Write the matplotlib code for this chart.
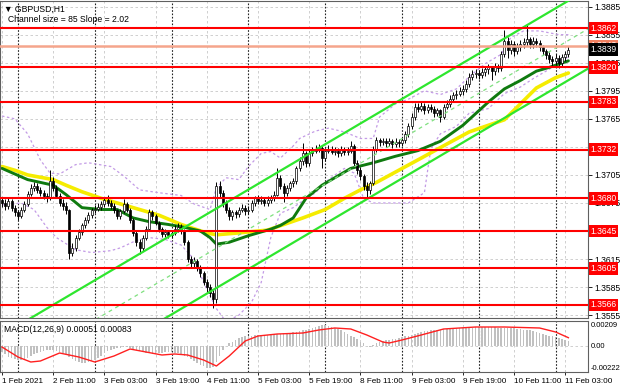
import matplotlib
matplotlib.use('Agg')
import matplotlib.pyplot as plt
import numpy as np

plt.rcParams['font.family'] = ['Liberation Sans', 'DejaVu Sans']

# ---------------- data ----------------
opens = [1.3678,1.3675,1.3672,1.3677,1.3670,1.3665,1.3661,1.3668,1.3674,1.3685,
         1.3691,1.3693,1.3689,1.3686,1.3683,1.3680,1.3698,1.3691,1.3683,1.3675,
         1.3672,1.3667,1.3622,1.3627,1.3638,1.3644,1.3651,1.3657,1.3662,1.3667,
         1.3669,1.3671,1.3674,1.3678,1.3675,1.3672,1.3667,1.3661,1.3666,1.3674,
         1.3668,1.3657,1.3643,1.3633,1.3627,1.3638,1.3647,1.3665,1.3661,1.3654,
         1.3647,1.3642,1.3644,1.3641,1.3643,1.3647,1.3649,1.3645,1.3633,1.3615,
         1.3611,1.3613,1.3606,1.3600,1.3591,1.3585,1.3579,1.3572,1.3693,1.3686,
         1.3675,1.3668,1.3661,1.3665,1.3663,1.3668,1.3670,1.3666,1.3668,1.3675,
         1.3680,1.3677,1.3678,1.3675,1.3678,1.3680,1.3684,1.3702,1.3693,1.3686,
         1.3691,1.3696,1.3698,1.3712,1.3720,1.3728,1.3718,1.3728,1.3731,1.3733,
         1.3734,1.3723,1.3731,1.3733,1.3730,1.3731,1.3728,1.3733,1.3729,1.3731,
         1.3736,1.3718,1.3710,1.3704,1.3693,1.3689,1.3696,1.3733,1.3742,1.3740,
         1.3741,1.3739,1.3741,1.3738,1.3740,1.3739,1.3742,1.3749,1.3757,1.3767,
         1.3778,1.3776,1.3779,1.3774,1.3778,1.3776,1.3771,1.3774,1.3767,1.3778,
         1.3781,1.3786,1.3790,1.3792,1.3795,1.3797,1.3802,1.3810,1.3813,1.3814,
         1.3812,1.3815,1.3818,1.3820,1.3816,1.3821,1.3819,1.3834,1.3848,1.3839,
         1.3845,1.3837,1.3842,1.3845,1.3847,1.3850,1.3845,1.3848,1.3846,1.3842,
         1.3837,1.3833,1.3829,1.3827,1.3830,1.3825,1.3831,1.3834]
closes = [1.3675,1.3672,1.3677,1.3670,1.3665,1.3661,1.3668,1.3674,1.3685,1.3691,
          1.3693,1.3689,1.3686,1.3683,1.3680,1.3698,1.3691,1.3683,1.3675,1.3672,
          1.3667,1.3622,1.3627,1.3638,1.3644,1.3651,1.3657,1.3662,1.3667,1.3669,
          1.3671,1.3674,1.3678,1.3675,1.3672,1.3667,1.3661,1.3666,1.3674,1.3668,
          1.3657,1.3643,1.3633,1.3627,1.3638,1.3647,1.3665,1.3661,1.3654,1.3647,
          1.3642,1.3644,1.3641,1.3643,1.3647,1.3649,1.3645,1.3633,1.3615,1.3611,
          1.3613,1.3606,1.3600,1.3591,1.3585,1.3579,1.3572,1.3693,1.3686,1.3675,
          1.3668,1.3661,1.3665,1.3663,1.3668,1.3670,1.3666,1.3668,1.3675,1.3680,
          1.3677,1.3678,1.3675,1.3678,1.3680,1.3684,1.3702,1.3693,1.3686,1.3691,
          1.3696,1.3698,1.3712,1.3720,1.3728,1.3718,1.3728,1.3731,1.3733,1.3734,
          1.3723,1.3731,1.3733,1.3730,1.3731,1.3728,1.3733,1.3729,1.3731,1.3736,
          1.3718,1.3710,1.3704,1.3693,1.3689,1.3696,1.3733,1.3742,1.3740,1.3741,
          1.3739,1.3741,1.3738,1.3740,1.3739,1.3742,1.3749,1.3757,1.3767,1.3778,
          1.3776,1.3779,1.3774,1.3778,1.3776,1.3771,1.3774,1.3767,1.3778,1.3781,
          1.3786,1.3790,1.3792,1.3795,1.3797,1.3802,1.3810,1.3813,1.3814,1.3812,
          1.3815,1.3818,1.3820,1.3816,1.3821,1.3819,1.3834,1.3848,1.3839,1.3845,
          1.3837,1.3842,1.3845,1.3847,1.3850,1.3845,1.3848,1.3846,1.3842,1.3837,
          1.3833,1.3829,1.3827,1.3830,1.3825,1.3831,1.3834,1.3839]
highs = [1.3681,1.3679,1.3680,1.3679,1.3673,1.3667,1.3671,1.3677,1.3688,1.3695,
         1.3697,1.3696,1.3692,1.3689,1.3686,1.3710,1.3703,1.3694,1.3686,1.3679,
         1.3676,1.3669,1.3632,1.3641,1.3647,1.3654,1.3660,1.3665,1.3670,1.3673,
         1.3675,1.3677,1.3681,1.3684,1.3678,1.3675,1.3669,1.3669,1.3679,1.3676,
         1.3670,1.3659,1.3646,1.3636,1.3641,1.3650,1.3669,1.3668,1.3663,1.3656,
         1.3649,1.3647,1.3646,1.3646,1.3651,1.3654,1.3652,1.3647,1.3635,1.3618,
         1.3617,1.3615,1.3609,1.3602,1.3594,1.3588,1.3582,1.3697,1.3699,1.3689,
         1.3678,1.3671,1.3668,1.3668,1.3671,1.3674,1.3673,1.3672,1.3678,1.3683,
         1.3684,1.3682,1.3681,1.3682,1.3684,1.3688,1.3712,1.3705,1.3696,1.3694,
         1.3699,1.3702,1.3715,1.3724,1.3739,1.3731,1.3732,1.3735,1.3737,1.3738,
         1.3736,1.3734,1.3737,1.3736,1.3735,1.3734,1.3736,1.3735,1.3735,1.3741,
         1.3738,1.3721,1.3713,1.3706,1.3697,1.3699,1.3736,1.3746,1.3745,1.3745,
         1.3744,1.3745,1.3743,1.3744,1.3743,1.3746,1.3752,1.3760,1.3771,1.3782,
         1.3782,1.3783,1.3782,1.3781,1.3781,1.3779,1.3777,1.3776,1.3781,1.3785,
         1.3790,1.3794,1.3796,1.3799,1.3801,1.3806,1.3814,1.3817,1.3818,1.3817,
         1.3819,1.3822,1.3824,1.3822,1.3825,1.3824,1.3838,1.3860,1.3852,1.3849,
         1.3848,1.3846,1.3849,1.3851,1.3865,1.3853,1.3852,1.3851,1.3849,1.3844,
         1.3840,1.3836,1.3832,1.3834,1.3833,1.3834,1.3837,1.3843]
lows = [1.3671,1.3668,1.3669,1.3666,1.3661,1.3657,1.3659,1.3665,1.3672,1.3683,
        1.3688,1.3686,1.3683,1.3679,1.3676,1.3678,1.3688,1.3680,1.3672,1.3668,
        1.3663,1.3615,1.3618,1.3624,1.3635,1.3641,1.3648,1.3654,1.3659,1.3664,
        1.3666,1.3668,1.3671,1.3672,1.3669,1.3664,1.3658,1.3658,1.3664,1.3665,
        1.3654,1.3640,1.3629,1.3620,1.3624,1.3635,1.3645,1.3657,1.3651,1.3644,
        1.3639,1.3639,1.3638,1.3638,1.3641,1.3644,1.3642,1.3630,1.3612,1.3607,
        1.3607,1.3602,1.3596,1.3587,1.3580,1.3574,1.3563,1.3568,1.3681,1.3671,
        1.3664,1.3657,1.3657,1.3659,1.3660,1.3665,1.3662,1.3663,1.3665,1.3672,
        1.3674,1.3674,1.3672,1.3672,1.3675,1.3677,1.3682,1.3690,1.3676,1.3683,
        1.3688,1.3692,1.3695,1.3709,1.3716,1.3714,1.3715,1.3725,1.3728,1.3729,
        1.3712,1.3720,1.3728,1.3727,1.3726,1.3724,1.3725,1.3726,1.3726,1.3728,
        1.3714,1.3706,1.3700,1.3689,1.3680,1.3685,1.3694,1.3730,1.3736,1.3737,
        1.3735,1.3736,1.3734,1.3735,1.3735,1.3736,1.3739,1.3746,1.3754,1.3764,
        1.3772,1.3773,1.3770,1.3771,1.3772,1.3767,1.3768,1.3762,1.3765,1.3775,
        1.3778,1.3783,1.3786,1.3789,1.3791,1.3794,1.3799,1.3807,1.3809,1.3808,
        1.3809,1.3811,1.3813,1.3806,1.3812,1.3815,1.3816,1.3831,1.3830,1.3834,
        1.3832,1.3834,1.3838,1.3841,1.3843,1.3841,1.3841,1.3842,1.3838,1.3833,
        1.3829,1.3825,1.3822,1.3823,1.3819,1.3820,1.3827,1.3831]

# moving averages (bar index, price)
ma_green_x = [0, 8, 16, 20, 25, 31, 36, 41, 46, 52, 57, 62, 65, 67, 71, 77, 84, 87, 91, 95,
              100, 104, 109, 116, 123, 130, 137, 144, 152, 157, 162, 167, 171, 177]
ma_green_y = [1.3712, 1.3700, 1.3694, 1.3684, 1.3670, 1.3668, 1.3668, 1.3659, 1.3655, 1.3652,
              1.3649, 1.3645, 1.3638, 1.3631, 1.3633, 1.3640, 1.3647, 1.3651, 1.3659, 1.3680,
              1.3694, 1.3702, 1.3712, 1.3718, 1.3725, 1.3731, 1.3741, 1.3758, 1.3783, 1.3797,
              1.3806, 1.3816, 1.3820, 1.3827]
ma_yellow_x = [0, 4, 8, 16, 20, 25, 31, 36, 43, 49, 56, 64, 67, 74, 83, 94, 101, 107, 112,
               117, 124, 131, 139, 146, 157, 162, 167, 173, 177]
ma_yellow_y = [1.3714, 1.3710, 1.3705, 1.3700, 1.3694, 1.3687, 1.3680, 1.3675, 1.3668, 1.3662,
               1.3652, 1.3643, 1.3641, 1.3643, 1.3646, 1.3659, 1.3668, 1.3680, 1.3689,
               1.3697, 1.3710, 1.3723, 1.3738, 1.3751, 1.3764, 1.3781, 1.3798, 1.3809, 1.3814]

# Bollinger bands (bar index, price)
bb_up_x = [0, 4, 8, 12, 15, 18, 23, 27, 34, 38, 43, 49, 56, 60, 65, 67, 70, 74, 77, 81, 84,
           87, 91, 93, 98, 102, 107, 112, 116, 118, 123, 127, 132, 137, 142, 146, 151, 156,
           159, 163, 168, 174, 177]
bb_up_y = [1.3768, 1.3765, 1.3749, 1.3721, 1.3707, 1.3706, 1.3716, 1.3718, 1.3714, 1.3704,
           1.3689, 1.3686, 1.3683, 1.3674, 1.3668, 1.3691, 1.3702, 1.3700, 1.3714, 1.3728,
           1.3730, 1.3723, 1.3736, 1.3744, 1.3752, 1.3755, 1.3751, 1.3744, 1.3744, 1.3767,
           1.3781, 1.3786, 1.3795, 1.3791, 1.3797, 1.3810, 1.3824, 1.3834, 1.3852, 1.3859,
           1.3859, 1.3855, 1.3855]
bb_dn_x = [0, 6, 10, 14, 17, 23, 28, 34, 37, 42, 46, 51, 56, 60, 63, 67, 70, 74, 78, 81, 84,
           87, 91, 93, 98, 102, 107, 110, 113, 116, 121, 127, 132, 134, 137, 142, 146, 152,
           157, 162, 166, 171, 174, 177]
bb_dn_y = [1.3673, 1.3675, 1.3668, 1.3649, 1.3638, 1.3625, 1.3622, 1.3624, 1.3627, 1.3635,
           1.3638, 1.3636, 1.3630, 1.3615, 1.3590, 1.3562, 1.3548, 1.3555, 1.3569, 1.3590,
           1.3638, 1.3664, 1.3670, 1.3675, 1.3686, 1.3700, 1.3712, 1.3707, 1.3680, 1.3675,
           1.3675, 1.3675, 1.3686, 1.3733, 1.3749, 1.3757, 1.3771, 1.3776, 1.3792, 1.3799,
           1.3808, 1.3818, 1.3827, 1.3831]

# channel indicator: "Channel size = 85 Slope = 2.02"
channel_size = 0.0085
channel_slope = 0.000202
channel_anchor_bar = 112
channel_anchor_low = 1.3675

# horizontal levels
levels = [1.3862, 1.3820, 1.3783, 1.3732, 1.3680, 1.3645, 1.3605, 1.3566]
ask_level = 1.3843
last_price = 1.3839
price_ticks = [1.3885, 1.3855, 1.3825, 1.3795, 1.3765, 1.3735, 1.3705, 1.3675,
               1.3645, 1.3615, 1.3585, 1.3555]
hidden_ticks = [1.3735, 1.3645]

# MACD histogram (per bar) and signal line
macd_hist = [-0.00063, -0.00084, -0.00105, -0.00116, -0.00126,
             -0.00137, -0.00137, -0.00126, -0.00116,
             -0.00095, -0.00084, -0.00074, -0.00063, -0.00053, -0.00042, -0.00042,
             -0.00042, -0.00053, -0.00063, -0.00074, -0.00084,
             -0.00105, -0.00126, -0.00147, -0.00158, -0.00168, -0.00168, -0.00158, -0.00147, -0.00137,
             -0.00116, -0.00095, -0.00074, -0.00053, -0.00042, -0.00032, -0.00021,
             -0.00021, -0.00011, -0.00011, -0.00021, -0.00032, -0.00042,
             -0.00053, -0.00063, -0.00074, -0.00074, -0.00084, -0.00084, -0.00074, -0.00074, -0.00063,
             -0.00063, -0.00063, -0.00074, -0.00074, -0.00084, -0.00095,
             -0.00105, -0.00126, -0.00147, -0.00168, -0.00189, -0.00200,
             -0.00215, -0.00222, -0.00210,
             -0.00158, -0.00095, -0.00042, 0.00005,
             0.00026, 0.00044, 0.00061, 0.00078, 0.00087, 0.00096,
             0.00104, 0.00104, 0.00113, 0.00113, 0.00113, 0.00113, 0.00113, 0.00122, 0.00122,
             0.00122, 0.00122, 0.00131, 0.00131, 0.00131, 0.00139, 0.00139, 0.00148,
             0.00157, 0.00165, 0.00174, 0.00183, 0.00191, 0.00200, 0.00209, 0.00209, 0.00200,
             0.00191, 0.00183, 0.00174, 0.00157, 0.00139, 0.00122, 0.00104, 0.00087, 0.00070,
             0.00044, 0.00026, 0.00005, -0.00010, 0.00015, 0.00035, 0.00045, 0.00052,
             0.00060, 0.00065, 0.00070, 0.00075, 0.00080, 0.00087, 0.00096, 0.00104,
             0.00113, 0.00122, 0.00130, 0.00139, 0.00148, 0.00148, 0.00157, 0.00157,
             0.00165, 0.00165, 0.00174, 0.00174, 0.00174, 0.00174, 0.00183, 0.00183, 0.00183,
             0.00183, 0.00183, 0.00183, 0.00191, 0.00191, 0.00191, 0.00191, 0.00191, 0.00191,
             0.00191, 0.00183, 0.00183, 0.00183, 0.00183, 0.00183, 0.00183,
             0.00174, 0.00174, 0.00165, 0.00165, 0.00157, 0.00148, 0.00139, 0.00131, 0.00122, 0.00113,
             0.00104, 0.00096, 0.00087, 0.00078, 0.00068, 0.00059, 0.00051]
signal_x = [0, 5, 9, 12, 18, 24, 29, 35, 40, 45, 50, 54, 58, 63, 67, 71, 76, 80, 86, 94, 99,
            104, 109, 114, 119, 121, 125, 131, 138, 148, 157, 168, 173, 177]
signal_y = [-0.0001, -0.0011, -0.0016, -0.0015, -0.0007, -0.0011, -0.0016, -0.0010, -0.0003,
            -0.0006, -0.0009, -0.0008, -0.0009, -0.0014, -0.0020, -0.0010, 0.0005, 0.0010,
            0.0012, 0.0013, 0.0016, 0.0018, 0.0017, 0.0011, 0.0004, 0.0003, 0.0006, 0.0011,
            0.0017, 0.0019, 0.0019, 0.0018, 0.0014, 0.00083]
macd_labels = [(0.00209, '0.00209'), (0.0, '0.00'), (-0.00222, '-0.00222')]

date_tick_bars = [0, 16, 32, 48, 64, 80, 96, 112, 128, 144, 160, 176]
date_labels = ['1 Feb 2021', '2 Feb 11:00', '3 Feb 03:00', '3 Feb 19:00', '4 Feb 11:00',
               '5 Feb 03:00', '5 Feb 19:00', '8 Feb 11:00', '9 Feb 03:00', '9 Feb 19:00',
               '10 Feb 11:00', '11 Feb 03:00']
day_separators = [5, 29, 53, 77, 101, 125, 149, 173]

# ---------------- figure ----------------
W, H = 620, 388
fig = plt.figure(figsize=(6.2, 3.88), dpi=100)
fig.patch.set_facecolor('white')
FS = 6.2


def rect(x0, y0, x1, y1):
    return [x0 / W, 1 - y1 / H, (x1 - x0) / W, (y1 - y0) / H]


ax = fig.add_axes(rect(0, 1, 588, 318))
axm = fig.add_axes(rect(0, 321, 588, 372))
XL = (-0.625, 183.125)

n = len(closes)
xs = np.arange(n)

# grid
for p in price_ticks:
    ax.axhline(p, color='#c8c8c8', lw=0.6, ls=(0, (3, 3)), zorder=0)
for b in date_tick_bars:
    for a in (ax, axm):
        a.axvline(b, color='#c8c8c8', lw=0.6, ls=(0, (3, 3)), zorder=0)
for b in day_separators:
    for a in (ax, axm):
        a.axvline(b, color='#222222', lw=0.8, ls=(0, (1.5, 1.5)), zorder=0.5)
axm.axhline(0, color='#c8c8c8', lw=0.6, ls=(0, (3, 3)), zorder=0)

# bollinger bands
ax.plot(bb_up_x, bb_up_y, color='#c39be6', lw=0.9, ls=(0, (2, 2)), zorder=1)
ax.plot(bb_dn_x, bb_dn_y, color='#c39be6', lw=0.9, ls=(0, (2, 2)), zorder=1)

# moving averages
ax.plot(ma_yellow_x, ma_yellow_y, color='#f5ec00', lw=2.6, solid_capstyle='round', zorder=2)
ax.plot(ma_green_x, ma_green_y, color='#0f7a0f', lw=2.1, solid_capstyle='round', zorder=2.1)

# candles
o = np.array(opens); c = np.array(closes); h = np.array(highs); l = np.array(lows)
ax.vlines(xs, l, h, color='black', lw=0.7, zorder=3)
bull = c >= o
body_bottom = np.minimum(o, c)
body_h = np.maximum(np.abs(c - o), 0.00002)
ax.bar(xs, body_h, bottom=body_bottom, width=0.62,
       color=np.where(bull, 'white', 'black'), edgecolor='black', linewidth=0.5, zorder=4)

# channel
cx = np.array([XL[0] - 5, XL[1] + 5])
low_line = channel_anchor_low + channel_slope * (cx - channel_anchor_bar)
ax.plot(cx, low_line, color='#2ee62e', lw=1.6, zorder=5)
ax.plot(cx, low_line + channel_size, color='#2ee62e', lw=1.6, zorder=5)
ax.plot(cx, low_line + channel_size / 2, color='#7ee07e', lw=0.9, ls=(0, (3, 3)), zorder=5)

# levels
for lv in levels:
    ax.axhline(lv, color='#ff0000', lw=1.5, zorder=6)
ax.axhline(ask_level, color='#f5a58c', lw=1.8, zorder=5.5)

ax.set_xlim(*XL)
ax.set_ylim(1.3552, 1.3891)
ax.yaxis.tick_right()
ax.set_yticks(price_ticks)
ax.set_yticklabels(['' if p in hidden_ticks else f'{p:.4f}' for p in price_ticks])
ax.tick_params(axis='y', length=3, labelsize=FS, pad=1.5, colors='black', width=0.6)
ax.set_xticks([])
for s in ax.spines.values():
    s.set_color('#606060'); s.set_linewidth(0.8)

# level labels on axis
bbox_kw = dict(boxstyle='square,pad=0.2', ec='none')
ytr = ax.get_yaxis_transform()
ax.text(1.004, ask_level, f'{ask_level:.4f}', transform=ytr, fontsize=FS,
        color='white', va='center', ha='left', bbox=dict(fc='#f08060', **bbox_kw), zorder=10, clip_on=False)
for lv in levels:
    ax.text(1.004, lv, f'{lv:.4f}', transform=ytr, fontsize=FS, color='white',
            va='center', ha='left', bbox=dict(fc='#ff0000', **bbox_kw), zorder=10, clip_on=False)
ax.text(1.004, last_price, f'{last_price:.4f}', transform=ytr, fontsize=FS,
        color='white', va='center', ha='left', bbox=dict(fc='black', **bbox_kw), zorder=11, clip_on=False)

ax.text(0.006, 0.988, '\u25bc GBPUSD,H1', transform=ax.transAxes, fontsize=FS, va='top', ha='left')
ax.text(0.014, 0.955, 'Channel size = 85 Slope = 2.02', transform=ax.transAxes, fontsize=FS,
        va='top', ha='left')

# MACD
axm.bar(xs[:len(macd_hist)], macd_hist, width=0.55, color='#c0c0c0', zorder=1)
axm.plot(signal_x, signal_y, color='#ff2020', lw=1.0, zorder=2)
axm.set_xlim(*XL)
axm.set_ylim(-0.0026, 0.0025)
axm.set_yticks([])
axm.set_xticks(date_tick_bars)
axm.set_xticklabels(date_labels, ha='left', fontsize=5.9)
axm.tick_params(axis='x', length=2, pad=2, width=0.6)
for s in axm.spines.values():
    s.set_color('#606060'); s.set_linewidth(0.8)
axm.text(0.006, 0.93, 'MACD(12,26,9) 0.00051 0.00083', transform=axm.transAxes, fontsize=FS,
         va='top', ha='left')
for v, lab in macd_labels:
    axm.text(1.004, v, lab, transform=axm.get_yaxis_transform(), fontsize=5.5, va='center',
             ha='left', clip_on=False)

fig.savefig('out.png', dpi=100, facecolor='white')
